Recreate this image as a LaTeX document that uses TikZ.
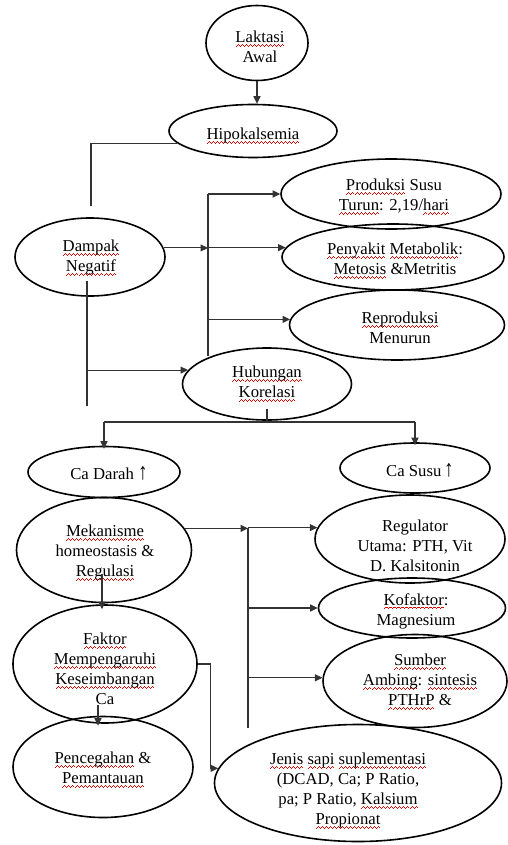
\documentclass[tikz,border=0pt]{standalone}
\usepackage{fontspec}
\setmainfont{Liberation Serif}
\usetikzlibrary{shapes.geometric,arrows.meta,calc}
\newbox\spbox
\newcommand\spellu[1]{\leavevmode\setbox\spbox\hbox{#1}\rlap{\hbox to \wd\spbox{\color{red!85!black}\xleaders\hbox{\rule[-3.9pt]{1pt}{.75pt}\rule[-3.1pt]{1pt}{.75pt}\rule[-2.3pt]{1pt}{.75pt}\rule[-3.1pt]{1pt}{.75pt}}\hfil}}\box\spbox}
\newcommand\uparr{\scalebox{1.15}[1.4]{↑}}
\tikzset{
  el/.style={draw, ellipse, line width=1.6pt, inner sep=0pt},
  tx/.style={align=center, inner sep=0pt, font=\fontsize{16.7}{20}\selectfont},
  con/.style={line width=1.1pt, draw=black!80},
  arr/.style={con, -{Triangle[length=7.5pt,width=7pt]}},
}
\begin{document}
\begin{tikzpicture}[x=1pt,y=-1pt]
\useasboundingbox (0,0) rectangle (507,845);
% ellipses
\node[el,minimum width=102pt,minimum height=75pt] (lak) at (257,43) {};
\node[el,minimum width=168pt,minimum height=53pt] (hip) at (253,131) {};
\node[el,minimum width=150pt,minimum height=78pt] (dam) at (90,257) {};
\node[el,minimum width=220pt,minimum height=70pt] (prod) at (391,194) {};
\node[el,minimum width=222pt,minimum height=66pt] (pen) at (393,257) {};
\node[el,minimum width=215pt,minimum height=70pt] (rep) at (397,325) {};
\node[el,minimum width=169pt,minimum height=72pt] (hub) at (267,384) {};
\node[el,minimum width=152pt,minimum height=51pt] (cad) at (104,472) {};
\node[el,minimum width=150pt,minimum height=50pt] (cas) at (415,468) {};
\node[el,minimum width=175pt,minimum height=105pt] (mek) at (104,550) {};
\node[el,minimum width=190pt,minimum height=88pt] (reg) at (410,539) {};
\node[el,minimum width=187pt,minimum height=60pt] (kof) at (412,608) {};
\node[el,minimum width=184pt,minimum height=93pt] (sum) at (415,681) {};
\node[el,minimum width=184pt,minimum height=118pt] (fak) at (105,664) {};
\node[el,minimum width=180pt,minimum height=101pt] (pcg) at (103,767) {};
\node[el,minimum width=287pt,minimum height=117pt] (jen) at (358,783) {};
% texts
\node[tx] (lakt) at ($(lak)+(3,4)$) {\spellu{Laktasi}\\Awal};
\node[tx] (hipt) at ($(hip)+(0,5)$) {\spellu{Hipokalsemia}};
\node[tx] (damt) at ($(dam)+(1,1)$) {\spellu{Dampak}\\\spellu{Negatif}};
\node[tx] (prodt) at ($(prod)+(3,3)$) {\spellu{Produksi} Susu\\\spellu{Turun}: 2,19/\spellu{hari}};
\node[tx] (pent) at ($(pen)+(2,4)$) {\spellu{Penyakit} \spellu{Metabolik}:\\\spellu{Metosis} \&Metritis};
\node[tx] (rept) at ($(rep)+(3,3)$) {\spellu{Reproduksi}\\Menurun};
\node[tx] (hubt) at ($(hub)+(0,0)$) {\spellu{Hubungan}\\\spellu{Korelasi}};
\node[tx] (cadt) at ($(cad)+(5,1)$) {Ca Darah \uparr};
\node[tx] (cast) at ($(cas)+(5,2)$) {Ca Susu\,\uparr};
\node[tx] (mekt) at ($(mek)+(1,3)$) {\spellu{Mekanisme}\\homeostasis \&\\\spellu{Regulasi}};
\node[tx] (regt) at ($(reg)+(5,7)$) {Regulator\\Utama: PTH, Vit\\D. Kalsitonin};
\node[tx] (koft) at ($(kof)+(4,3)$) {\spellu{Kofaktor}:\\Magnesium};
\node[tx] (sumt) at ($(sum)+(5,1)$) {\spellu{Sumber}\\\spellu{Ambing}: \spellu{sintesis}\\\spellu{PTHrP} \&};
\node[tx] (fakt) at ($(fak)+(0,5)$) {\spellu{Faktor}\\\spellu{Mempengaruhi}\\\spellu{Keseimbangan}\\Ca};
\node[tx] (pcgt) at ($(pcg)+(0,3)$) {\spellu{Pencegahan} \&\\\spellu{Pemantauan}};
\node[tx] (jent) at ($(jen)+(-10,8)$) {\spellu{Jenis} \spellu{sapi} \spellu{suplementasi}\\(DCAD, Ca; P Ratio,\\pa; P Ratio, \spellu{Kalsium}\\\spellu{Propionat}};
% connectors top
\draw[arr] (lak.south) -- (lak.south |- hip.north);
\coordinate (hd) at (91,206);
\draw[con] (hip.189) -| (hd);
% bus 1
\coordinate (b1t) at (208,194);
\coordinate (b1b) at (208,356);
\draw[con] (b1t) -- (b1b);
\draw[arr] (dam.7) -- (b1t |- dam.7);
\draw[arr] (b1t) -- (prod.west);
\draw[arr] (b1t |- pen.175) -- (pen.175);
\draw[arr] (b1t |- rep.177) -- (rep.177);
% dampak down line
\coordinate (d1) at (87,281);
\coordinate (d2) at (87,406);
\draw[con] (d1) -- (d2);
\draw[arr] (d1 |- hub.170) -- (hub.170);
% hubungan split
\coordinate (h1) at (267,422);
\draw[con] ($(hub.south)+(0,-12)$) -- (h1);
\draw[con] (cad.north |- h1) -- (cas.north |- h1);
\draw[arr] (cad.north |- h1) -- ($(cad.north)+(0,3)$);
\draw[arr] (cas.north |- h1) -- ($(cas.north)+(0,3)$);
% mekanisme
\coordinate (m1) at ($(mek.center)+(-2,24)$);
\draw[arr] (m1) -- ($(m1 |- fak.north)+(0,5)$);
\coordinate (b2t) at (248,528);
\coordinate (b2b) at (248,728);
\draw[arr] (mek.15) -- (b2t |- mek.15);
\draw[con] (b2t |- reg.173) -- (b2b);
\draw[arr] (b2t |- reg.173) -- (reg.173);
\draw[arr] (b2t |- kof.west) -- (kof.west);
\draw[arr] (b2t |- sum.178) -- (sum.178);
% faktor
\coordinate (f1) at ($(fak.center)+(-7,41)$);
\draw[arr] (f1) -- ($(f1 |- pcg.north)+(0,10)$);
\coordinate (jc) at ($(jen.174)+(-8,0)$);
\draw[arr] (fak.east) -| (jc) -- (jen.174);
\end{tikzpicture}
\end{document}
